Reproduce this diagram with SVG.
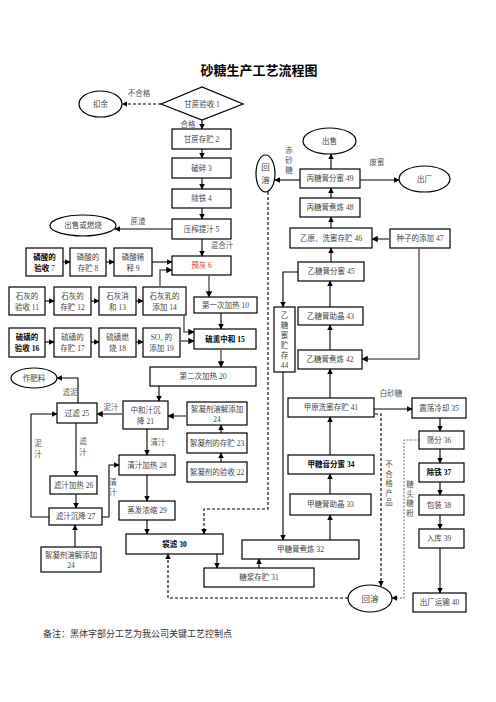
<svg xmlns="http://www.w3.org/2000/svg" width="496" height="702" viewBox="0 0 496 702">
<defs>
<marker id="a" viewBox="0 0 10 10" refX="9" refY="5" markerWidth="5" markerHeight="5" orient="auto"><path d="M0,0 L10,5 L0,10 z" fill="#000"/></marker>
<marker id="g" viewBox="0 0 10 10" refX="9" refY="5" markerWidth="4" markerHeight="4" orient="auto"><path d="M0,0 L10,5 L0,10 z" fill="#000"/></marker>
</defs>
<style>
rect,ellipse,polygon{fill:#fff;stroke:#000;stroke-width:1.2}
text{font-family:"Liberation Serif","Noto Sans CJK SC",serif;font-size:7.5px;fill:#444;text-anchor:middle}
.k{font-weight:bold;fill:#000}
.r{fill:#e0303a}
.l{font-size:7.5px;fill:#555}
#conn path{fill:none;stroke:#000;stroke-width:1.1;marker-end:url(#a)}
#conn path.gr{stroke:#666;stroke-width:1.6;marker-end:url(#g)}
#conn path.d{stroke-dasharray:3,2}
#conn path.dg{stroke:#777;stroke-dasharray:2,1.5}
#conn path.n{marker-end:none}
</style>
<rect x="0" y="0" width="496" height="702" style="fill:#fff;stroke:none"/>
<text x="259" y="75" class="k" style="font-size:13px">砂糖生产工艺流程图</text>

<g id="n1"><polygon points="161,104 202,87 243,104 202,120"/><text x="202" y="106.5">甘蔗验收 1</text></g>
<g id="kouyu"><ellipse cx="100.5" cy="104" rx="21.5" ry="13"/><text x="100.5" y="106.5">扣余</text></g>
<g id="n2"><rect x="172" y="129" width="59" height="20"/><text x="201.5" y="141.5">甘蔗存贮 2</text></g>
<g id="n3"><rect x="172" y="158" width="59" height="20"/><text x="201.5" y="170.5">破碎 3</text></g>
<g id="n4"><rect x="172" y="189" width="59" height="19"/><text x="201.5" y="201">除铁 4</text></g>
<g id="n5"><rect x="172" y="219" width="59" height="20"/><text x="201.5" y="231.5">压榨提汁 5</text></g>
<g id="sell1"><ellipse cx="83" cy="225.5" rx="33" ry="10.5"/><text x="83" y="228">出售或燃烧</text></g>
<g id="n6"><rect x="172" y="256" width="59" height="19"/><text x="201.5" y="268" class="r">预灰 6</text></g>
<g id="n7"><rect x="26" y="248" width="37" height="28"/><text x="44.5" y="259.5" class="k">磷酸的</text><text x="44.5" y="270.5"><tspan class="k">验收</tspan> 7</text></g>
<g id="n8"><rect x="70" y="248" width="36" height="28"/><text x="88" y="259.5">磷酸的</text><text x="88" y="270.5">存贮 8</text></g>
<g id="n9"><rect x="114" y="248" width="38" height="28"/><text x="133" y="259.5">磷酸稀</text><text x="133" y="270.5">释 9</text></g>
<g id="n11"><rect x="9" y="287" width="36" height="28"/><text x="27" y="298.5">石灰的</text><text x="27" y="309.5">验收 11</text></g>
<g id="n12"><rect x="54" y="287" width="37" height="28"/><text x="72.5" y="298.5">石灰的</text><text x="72.5" y="309.5">存贮 12</text></g>
<g id="n13"><rect x="99" y="287" width="37" height="28"/><text x="117.5" y="298.5">石灰消</text><text x="117.5" y="309.5">和 13</text></g>
<g id="n14"><rect x="143" y="287" width="43" height="28"/><text x="164.5" y="298.5">石灰乳的</text><text x="164.5" y="309.5">添加 14</text></g>
<g id="n10"><rect x="194" y="297" width="63" height="16"/><text x="225.5" y="307.5">第一次加热 10</text></g>
<g id="n16"><rect x="9" y="328" width="36" height="29"/><text x="27" y="340" class="k">硫磺的</text><text x="27" y="351" class="k">验收 16</text></g>
<g id="n17"><rect x="54" y="328" width="37" height="29"/><text x="72.5" y="340">硫磺的</text><text x="72.5" y="351">存贮 17</text></g>
<g id="n18"><rect x="99" y="328" width="37" height="29"/><text x="117.5" y="340">硫磺燃</text><text x="117.5" y="351">烧 18</text></g>
<g id="n19"><rect x="143" y="328" width="37" height="29"/><text x="161.5" y="340">SO₂ 的</text><text x="161.5" y="351">添加 19</text></g>
<g id="n15"><rect x="194" y="329" width="62" height="20"/><text x="225" y="341.5" class="k">硫熏中和 15</text></g>
<g id="n20"><rect x="150" y="367" width="106" height="19"/><text x="203" y="379">第二次加热 20</text></g>
<g id="n21"><rect x="123" y="401" width="45" height="28"/><text x="145.5" y="412.5">中和汁沉</text><text x="145.5" y="423.5">降 21</text></g>
<g id="n24a"><rect x="187" y="402" width="60" height="23"/><text x="217" y="411.5">絮凝剂溶解添加</text><text x="217" y="421.5">24</text></g>
<g id="n23"><rect x="187" y="433" width="60" height="20"/><text x="217" y="445.5">絮凝剂的存贮 23</text></g>
<g id="n22"><rect x="187" y="462" width="60" height="20"/><text x="217" y="474.5">絮凝剂的验收 22</text></g>
<g id="fert"><ellipse cx="34" cy="378" rx="23" ry="10"/><text x="34" y="380.5">作肥料</text></g>
<g id="n25"><rect x="57" y="403" width="40" height="20"/><text x="77" y="415.5">过滤 25</text></g>
<g id="n26"><rect x="50" y="476" width="47" height="18"/><text x="73.5" y="487.5">滤汁加热 26</text></g>
<g id="n27"><rect x="49" y="508" width="53" height="17"/><text x="75.5" y="519">滤汁沉降 27</text></g>
<g id="n24b"><rect x="41" y="547" width="60" height="25"/><text x="71" y="557.5">絮凝剂溶解添加</text><text x="71" y="567.5">24</text></g>
<g id="n28"><rect x="119" y="455" width="56" height="20"/><text x="147" y="467.5">清汁加热 28</text></g>
<g id="n29"><rect x="119" y="501" width="56" height="19"/><text x="147" y="513">蒸发浓缩 29</text></g>
<g id="n30"><rect x="126" y="534" width="97" height="20"/><text x="174.5" y="546.5" class="k">袋滤 30</text></g>
<g id="n31"><rect x="204" y="568" width="110" height="19"/><text x="259" y="580">糖浆存贮 31</text></g>
<g id="n32"><rect x="242" y="540" width="117" height="19"/><text x="300.5" y="552">甲糖膏煮炼 32</text></g>
<g id="n33"><rect x="290" y="494" width="81" height="21"/><text x="330.5" y="507">甲糖膏助晶 33</text></g>
<g id="n34"><rect x="288" y="455" width="86" height="19"/><text x="331" y="467" class="k">甲糖膏分蜜 34</text></g>
<g id="n41"><rect x="288" y="398" width="86" height="19"/><text x="331" y="410">甲原洗蜜存贮 41</text></g>
<g id="n42"><rect x="298" y="350" width="64" height="19"/><text x="330" y="362">乙糖膏煮炼 42</text></g>
<g id="n43"><rect x="298" y="307" width="65" height="18"/><text x="330.5" y="318.5">乙糖膏助晶 43</text></g>
<g id="n44"><rect x="274" y="307" width="21" height="65"/><text x="284.5" y="318">乙</text><text x="284.5" y="328">糖</text><text x="284.5" y="338">蜜</text><text x="284.5" y="348">贮</text><text x="284.5" y="358">存</text><text x="284.5" y="368">44</text></g>
<g id="n45"><rect x="298" y="262" width="66" height="19"/><text x="331" y="274">乙糖膏分蜜 45</text></g>
<g id="n46"><rect x="290" y="228" width="82" height="20"/><text x="331" y="240.5">乙原、洗蜜存贮 46</text></g>
<g id="n47"><rect x="390" y="229" width="60" height="19"/><text x="420" y="241">种子的添加 47</text></g>
<g id="n48"><rect x="300" y="198" width="60" height="19"/><text x="330" y="210">丙糖膏煮炼 48</text></g>
<g id="n49"><rect x="300" y="169" width="60" height="19"/><text x="330" y="181">丙糖膏分蜜 49</text></g>
<g id="sell2"><ellipse cx="329.5" cy="141" rx="26.5" ry="13"/><text x="329.5" y="143.5">出售</text></g>
<g id="out1"><ellipse cx="424.5" cy="179" rx="25.5" ry="13"/><text x="424.5" y="181.5">出厂</text></g>
<g id="redis1"><ellipse cx="265.5" cy="173.5" rx="9.5" ry="18.5"/><text x="265.5" y="170" style="font-size:8.5px">回</text><text x="265.5" y="183" style="font-size:8.5px">溶</text></g>
<g id="redis2"><ellipse cx="370" cy="598.5" rx="22" ry="13.5"/><text x="370" y="601.5" style="font-size:8.5px">回溶</text></g>
<g id="n35"><rect x="412" y="398" width="54" height="20"/><text x="439" y="410.5">震荡冷却 35</text></g>
<g id="n36"><rect x="419" y="431" width="45" height="18"/><text x="439" y="442.5">筛分 36</text></g>
<g id="n37"><rect x="419" y="463" width="45" height="19"/><text x="439" y="475" class="k">除铁 37</text></g>
<g id="n38"><rect x="419" y="495" width="45" height="20"/><text x="439" y="507.5">包装 38</text></g>
<g id="n39"><rect x="419" y="529" width="45" height="19"/><text x="439" y="541">入库 39</text></g>
<g id="n40"><rect x="413" y="593" width="53" height="19"/><text x="439.5" y="605">出厂运输 40</text></g>

<g id="conn">
<path class="d" d="M161,104 H122.5"/>
<path d="M202,120 V129"/>
<path d="M202,149 V158"/>
<path d="M202,178 V189"/>
<path d="M202,208 V219"/>
<path d="M202,239 V256"/>
<path d="M172,229 H115"/>
<path d="M63,262 H70"/>
<path d="M106,262 H114"/>
<path d="M152,262 H172"/>
<path class="gr" d="M160,287 V270 H172"/>
<path d="M45,301 H54"/>
<path d="M91,301 H99"/>
<path d="M136,301 H143"/>
<path class="gr" d="M184,315 V332 H194"/>
<path d="M45,342 H54"/>
<path d="M91,342 H99"/>
<path d="M136,342 H143"/>
<path class="gr" d="M180,341 H194"/>
<path class="gr" d="M209,275 V297"/>
<path d="M221,313 V329"/>
<path class="gr" d="M221,349 V367"/>
<path d="M159,386 V401"/>
<path class="gr" d="M123,414 H97"/>
<path d="M78,403 V378 H57"/>
<path d="M76,423 V476"/>
<path d="M76,494 V508"/>
<path d="M49,517 H31 V414 H57"/>
<path d="M102,517 H109 V465 H119"/>
<path d="M147,429 V455"/>
<path d="M147,475 V501"/>
<path d="M147,520 V534"/>
<path class="gr" d="M187,416 H168"/>
<path d="M221,433 V425"/>
<path d="M221,462 V453"/>
<path d="M75,547 V525"/>
<path class="d" d="M268,192 V509 H204 V534"/>
<path class="d" d="M348,598 H168 V554"/>
<path d="M217,554 V568"/>
<path d="M259,568 V559"/>
<path d="M298,272 H283 V307"/>
<path d="M283,372 V540"/>
<path d="M330,540 V515"/>
<path d="M330,494 V474"/>
<path d="M330,455 V417"/>
<path d="M330,398 V369"/>
<path d="M330,350 V325"/>
<path d="M330,307 V281"/>
<path d="M331,262 V248"/>
<path d="M331,228 V217"/>
<path d="M331,198 V188"/>
<path d="M331,169 V154"/>
<path d="M360,180 H399"/>
<path d="M300,180 H275"/>
<path class="gr" d="M390,239 H372"/>
<path class="gr" d="M419,248 V359 H362"/>
<path d="M374,409 H412"/>
<path class="d" d="M375,414 H381 V586"/>
<path class="dg" d="M419,440 H404 V598 H392"/>
<path d="M440,418 V431"/>
<path d="M440,449 V463"/>
<path d="M440,482 V495"/>
<path d="M440,515 V529"/>
<path d="M440,548 V593"/>
</g>

<g id="labels">
<text x="139" y="96" class="l">不合格</text>
<text x="188" y="127" class="l">合格</text>
<text x="138" y="224" class="l">蔗渣</text>
<text x="222" y="248" class="l">混合汁</text>
<text x="111" y="410" class="l">泥汁</text>
<text x="70" y="395" class="l">滤泥</text>
<text x="83" y="444" class="l">滤</text><text x="83" y="455" class="l">汁</text>
<text x="38" y="446" class="l">泥</text><text x="38" y="457" class="l">汁</text>
<text x="113" y="485" class="l">清</text><text x="113" y="495" class="l">汁</text>
<text x="158" y="445" class="l">清汁</text>
<text x="377" y="165" class="l">废蜜</text>
<text x="289" y="153" class="l">赤</text><text x="289" y="163" class="l">砂</text><text x="289" y="173" class="l">糖</text>
<text x="391" y="396" class="l">白砂糖</text>
<text x="389" y="467" class="l">不</text><text x="389" y="476.5" class="l">合</text><text x="389" y="486" class="l">格</text><text x="389" y="495.5" class="l">产</text><text x="389" y="505" class="l">品</text>
<text x="410" y="487" class="l">糖</text><text x="410" y="496.5" class="l">头</text><text x="410" y="506" class="l">糖</text><text x="410" y="515.5" class="l">粉</text>
</g>
<text x="43" y="637" style="font-size:9px;text-anchor:start;fill:#333">备注：黑体字部分工艺为我公司关键工艺控制点</text>
</svg>
